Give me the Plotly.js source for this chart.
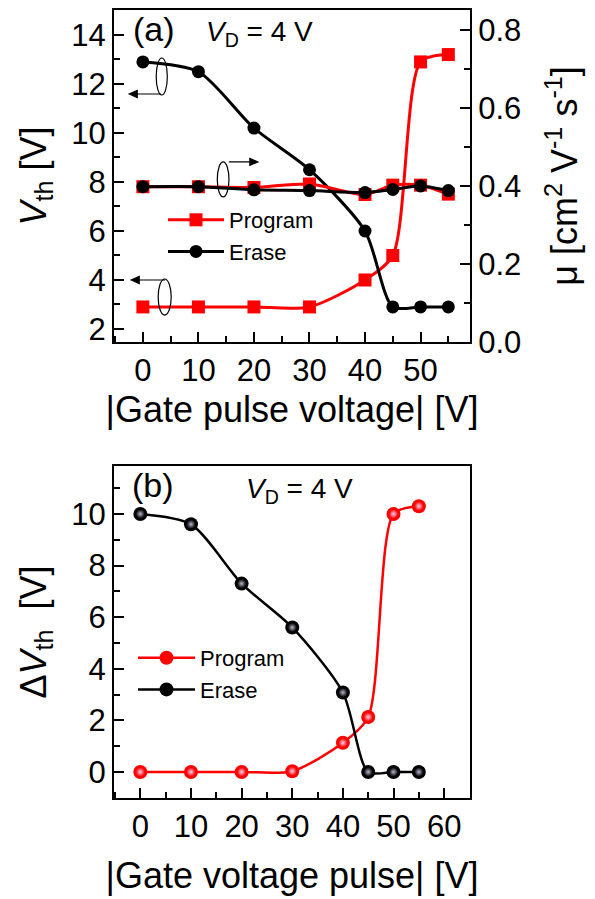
<!DOCTYPE html>
<html>
<head>
<meta charset="utf-8">
<script src="https://cdn.plot.ly/plotly-3.0.1.min.js"></script>
<style>
  html, body { margin: 0; padding: 0; background: #fff; }
  #chart { width: 595px; height: 899px; }
</style>
</head>
<body>
<div id="chart"></div>
<script>
// Gate pulse amplitudes (|V|)
const pulseV = [0, 10, 20, 30, 40, 45, 50, 55];

// (a) threshold voltage after program / erase pulses [V]
const vthProgram = [2.9, 2.9, 2.9, 2.9, 4.0, 5.0, 12.9, 13.2];
const vthErase   = [12.9, 12.5, 10.2, 8.5, 6.0, 2.9, 2.9, 2.9];

// (a) field-effect mobility [cm^2 V^-1 s^-1]
const muProgram = [0.398, 0.398, 0.396, 0.405, 0.378, 0.402, 0.402, 0.379];
const muErase   = [0.398, 0.398, 0.390, 0.388, 0.383, 0.391, 0.400, 0.388];

// (b) threshold voltage shift [V]
const dvthProgram = [0, 0, 0, 0.03, 1.13, 2.13, 10.0, 10.3];
const dvthErase   = [10.0, 9.6, 7.3, 5.6, 3.08, 0, 0, 0];

const seriesNames = ['Program', 'Erase'];
const RED = '#ff0000', BLACK = '#000000';
const FONT = 'Liberation Sans, Arial, sans-serif';
const SMOOTH = 0.75;

const traces = [];

// ---- panel (a) ----
traces.push({
  x: pulseV, y: vthProgram, xaxis: 'x', yaxis: 'y',
  mode: 'lines+markers', name: seriesNames[0], legend: 'legend',
  line: {color: RED, width: 3, shape: 'spline', smoothing: SMOOTH},
  marker: {symbol: 'square', size: 13, color: RED}
});
traces.push({
  x: pulseV, y: vthErase, xaxis: 'x', yaxis: 'y',
  mode: 'lines+markers', name: seriesNames[1], legend: 'legend',
  line: {color: BLACK, width: 3, shape: 'spline', smoothing: SMOOTH},
  marker: {symbol: 'circle', size: 13, color: BLACK}
});
traces.push({
  x: pulseV, y: muProgram, xaxis: 'x', yaxis: 'y2',
  mode: 'lines+markers', name: seriesNames[0], showlegend: false,
  line: {color: RED, width: 3, shape: 'spline', smoothing: SMOOTH},
  marker: {symbol: 'square', size: 13, color: RED}
});
traces.push({
  x: pulseV, y: muErase, xaxis: 'x', yaxis: 'y2',
  mode: 'lines+markers', name: seriesNames[1], showlegend: false,
  line: {color: BLACK, width: 3, shape: 'spline', smoothing: SMOOTH},
  marker: {symbol: 'circle', size: 13, color: BLACK}
});

// ---- panel (b): shaded ball markers ----
function ballTraces(yvals, name, base, glint) {
  return [
    {
      x: pulseV, y: yvals, xaxis: 'x2', yaxis: 'y3',
      mode: 'lines+markers', name: name, legend: 'legend2',
      line: {color: base, width: 2.5, shape: 'spline', smoothing: SMOOTH},
      marker: {symbol: 'circle', size: 14, color: base}
    },
    {
      x: pulseV, y: yvals, xaxis: 'x2', yaxis: 'y3',
      mode: 'markers', name: name, showlegend: false, hoverinfo: 'skip',
      marker: {symbol: 'circle', size: 9, color: base,
               gradient: {type: 'radial', color: glint}}
    }
  ];
}
traces.push(...ballTraces(dvthProgram, seriesNames[0], RED, '#ead6f0'));
traces.push(...ballTraces(dvthErase, seriesNames[1], BLACK, '#b8b8cc'));

const axisCommon = {
  showline: true, linecolor: BLACK, linewidth: 2, mirror: true,
  ticks: 'inside', ticklen: 10, tickwidth: 2, tickcolor: BLACK,
  showgrid: false, zeroline: false,
  tickfont: {family: FONT, size: 31, color: BLACK}
};

const titleFont = {family: FONT, size: 36, color: BLACK};

// small arrow drawn in pixel units, tip anchored at a data point
function arrowShape(tipX, tipY, len, dir) {
  const s = dir;            // -1 points left, +1 points right
  const h = 8 * -s, L = len * -s;
  return {
    type: 'path', xref: 'x', yref: 'y',
    xsizemode: 'pixel', ysizemode: 'pixel', xanchor: tipX, yanchor: tipY,
    path: `M0,0 L${h},-3.5 L${h},3.5 Z M${h},0 L${L},0`,
    line: {color: BLACK, width: 1.2}, fillcolor: BLACK
  };
}

const layout = {
  width: 595, height: 899,
  margin: {l: 0, r: 0, t: 0, b: 0},
  paper_bgcolor: '#fff', plot_bgcolor: '#fff',
  font: {family: FONT, color: BLACK},
  showlegend: true,
  xaxis: Object.assign({}, axisCommon, {
    domain: [0.1916, 0.7899], anchor: 'y',
    range: [-5.2, 58.9], tickmode: 'array', tickvals: [0, 10, 20, 30, 40, 50],
    minor: {ticks: 'inside', ticklen: 6, tickwidth: 2, dtick: 5, tick0: 0, tickcolor: BLACK},
    title: {text: '|Gate pulse voltage| [V]', font: titleFont, standoff: 10}
  }),
  yaxis: Object.assign({}, axisCommon, {
    domain: [0.6196, 0.9889], anchor: 'x',
    range: [1.47, 15.02], dtick: 2, tick0: 0,
    minor: {ticks: 'inside', ticklen: 6, tickwidth: 2, dtick: 1, tick0: 0, tickcolor: BLACK},
    title: {text: '<i>V</i><sub>th</sub> [V]', font: titleFont, standoff: 14}
  }),
  yaxis2: Object.assign({}, axisCommon, {
    overlaying: 'y', side: 'right', anchor: 'x',
    range: [0, 0.851], dtick: 0.2, tick0: 0, tickformat: '.1f',
    minor: {ticks: 'inside', ticklen: 6, tickwidth: 2, dtick: 0.1, tick0: 0, tickcolor: BLACK},
    title: {text: 'μ [cm<sup>2</sup> V<sup>-1</sup> s<sup>-1</sup>]', font: titleFont, standoff: 32}
  }),
  xaxis2: Object.assign({}, axisCommon, {
    domain: [0.1916, 0.7899], anchor: 'y3',
    range: [-5.2, 65.1], dtick: 10, tick0: 0,
    minor: {ticks: 'inside', ticklen: 6, tickwidth: 2, dtick: 5, tick0: 0, tickcolor: BLACK},
    title: {text: '|Gate voltage pulse| [V]', font: titleFont, standoff: 20}
  }),
  yaxis3: Object.assign({}, axisCommon, {
    domain: [0.1123, 0.4817], anchor: 'x2',
    range: [-1.01, 11.86], dtick: 2, tick0: 0,
    minor: {ticks: 'inside', ticklen: 6, tickwidth: 2, dtick: 1, tick0: 0, tickcolor: BLACK},
    title: {text: 'Δ<i>V</i><sub>th</sub>  [V]', font: titleFont, standoff: 14}
  }),
  legend: {
    x: 163 / 595, y: 1 - 199 / 899, xanchor: 'left', yanchor: 'top',
    bgcolor: 'rgba(0,0,0,0)', borderwidth: 0, tracegroupgap: 0, itemwidth: 56,
    font: {family: FONT, size: 22, color: BLACK}
  },
  legend2: {
    x: 133 / 595, y: 1 - 637 / 899, xanchor: 'left', yanchor: 'top',
    bgcolor: 'rgba(0,0,0,0)', borderwidth: 0, tracegroupgap: 0, itemwidth: 57,
    font: {family: FONT, size: 22, color: BLACK}
  },
  annotations: [
    {xref: 'paper', yref: 'paper', x: 154 / 595, y: 1 - 29 / 899, text: '(a)',
     showarrow: false, xanchor: 'center', yanchor: 'middle',
     font: {family: FONT, size: 34, color: BLACK}},
    {xref: 'paper', yref: 'paper', x: 259 / 595, y: 1 - 34 / 899,
     text: '<i>V</i><sub>D</sub> = 4 V',
     showarrow: false, xanchor: 'center', yanchor: 'middle',
     font: {family: FONT, size: 28, color: BLACK}},
    {xref: 'paper', yref: 'paper', x: 153 / 595, y: 1 - 485 / 899, text: '(b)',
     showarrow: false, xanchor: 'center', yanchor: 'middle',
     font: {family: FONT, size: 34, color: BLACK}},
    {xref: 'paper', yref: 'paper', x: 299 / 595, y: 1 - 490 / 899,
     text: '<i>V</i><sub>D</sub> = 4 V',
     showarrow: false, xanchor: 'center', yanchor: 'middle',
     font: {family: FONT, size: 28, color: BLACK}}
  ],
  shapes: [
    // ellipses marking which axis each curve family belongs to
    {type: 'circle', xref: 'x', yref: 'y', x0: 2.4, x1: 4.4, y0: 11.55, y1: 13.06,
     line: {color: BLACK, width: 1.2}},
    {type: 'circle', xref: 'x', yref: 'y', x0: 13.4, x1: 15.5, y0: 7.39, y1: 8.82,
     line: {color: BLACK, width: 1.2}},
    {type: 'circle', xref: 'x', yref: 'y', x0: 2.75, x1: 5.1, y0: 2.57, y1: 4.04,
     line: {color: BLACK, width: 1.2}},
    arrowShape(-2.46, 11.59, 32, -1),
    arrowShape(20.7, 8.82, 29, 1),
    arrowShape(-2.1, 4.0, 34, -1)
  ]
};

Plotly.newPlot('chart', traces, layout, {staticPlot: true, displayModeBar: false});
</script>
</body>
</html>
